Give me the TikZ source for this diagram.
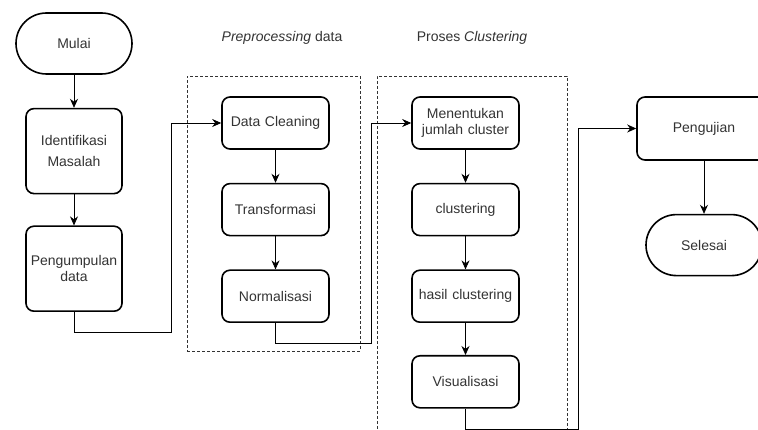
\documentclass[tikz,border=0pt]{standalone}
\usepackage{fontspec}
\setmainfont{Liberation Sans}
\usetikzlibrary{positioning,shapes.misc,arrows.meta}

\tikzset{
  basic/.style  = {draw, line width=1.6pt, align=center, inner sep=2pt,
                   font=\fontsize{14}{16}\selectfont, text=black!80},
  terminal/.style = {basic, rounded rectangle, minimum height=61pt},
  proc/.style   = {basic, rectangle, rounded corners=8pt, minimum width=96pt,
                   minimum height=85pt, text width=92pt},
  stage/.style  = {basic, rectangle, rounded corners=8pt, minimum width=107pt,
                   minimum height=52pt, text width=103pt},
  group/.style  = {draw, black!80, line width=0.8pt, dash pattern=on 3pt off 2pt,
                   rectangle, inner sep=0pt},
  title/.style  = {font=\fontsize{14}{16}\selectfont, text=black!80}
}

\begin{document}
\begin{tikzpicture}[x=1pt, y=-1pt, >={Stealth[length=9pt,width=8pt]}]

\useasboundingbox (0,0) rectangle (758,430);
\clip (0,0) rectangle (758,430);

% the dashed groups and their titles
\node[group, minimum width=173pt, minimum height=275pt] (gpre) at (273.5,213.5) {};
\node[group, minimum width=190pt, minimum height=370pt] (gclus) at (472,261) {};
\node[title] (tpre) at (282,38) {\textit{Preprocessing} data};
\node[title] (tclus) at (472,38) {Proses \textit{Clustering}};

% first column
\node[terminal, minimum width=120pt] (mulai) at (74,43.5) {Mulai};
\begin{scope}[every node/.style={proc}]
\node [below=33pt of mulai, font=\fontsize{14}{21}\selectfont] (ident) {Identifikasi\\Masalah};
\node [below=31pt of ident] (kumpul) {Pengumpulan\\data};
\end{scope}

% preprocessing
\begin{scope}[every node/.style={stage}]
\node at (275.5,123) (clean) {Data Cleaning};
\node [below=33pt of clean] (trans) {Transformasi};
\node [below=33pt of trans] (norm) {Normalisasi};
\end{scope}

% clustering
\begin{scope}[every node/.style={stage}]
\node at (465.5,123) (tentu) {Menentukan\\jumlah cluster};
\node [below=33pt of tentu] (clust) {clustering};
\node [below=33pt of clust] (hasil) {hasil clustering};
\node [below=32pt of hasil] (visual) {Visualisasi};
\end{scope}

% last column
\node[stage, minimum width=134pt, minimum height=63pt, text width=130pt] at (704,128.5) (uji) {Pengujian};
\node[terminal, minimum width=120pt, below=53pt of uji] (selesai) {Selesai};

\foreach \a/\b in {mulai/ident, ident/kumpul, clean/trans, trans/norm,
                   tentu/clust, clust/hasil, hasil/visual, uji/selesai}
  \draw[->, line width=0.8pt] (\a.south) -- (\b.north);

\draw[->, line width=0.8pt] (kumpul.south) -- ++(0,20) -| ([xshift=-50pt]clean.west) -- (clean.west);
\draw[->, line width=0.8pt] (norm.south) -- ++(0,20) -| ([xshift=-40pt]tentu.west) -- (tentu.west);
\draw[->, line width=0.8pt] (visual.south) -- ++(0,21) -| ([xshift=-58pt]uji.west) -- (uji.west);

\end{tikzpicture}
\end{document}
